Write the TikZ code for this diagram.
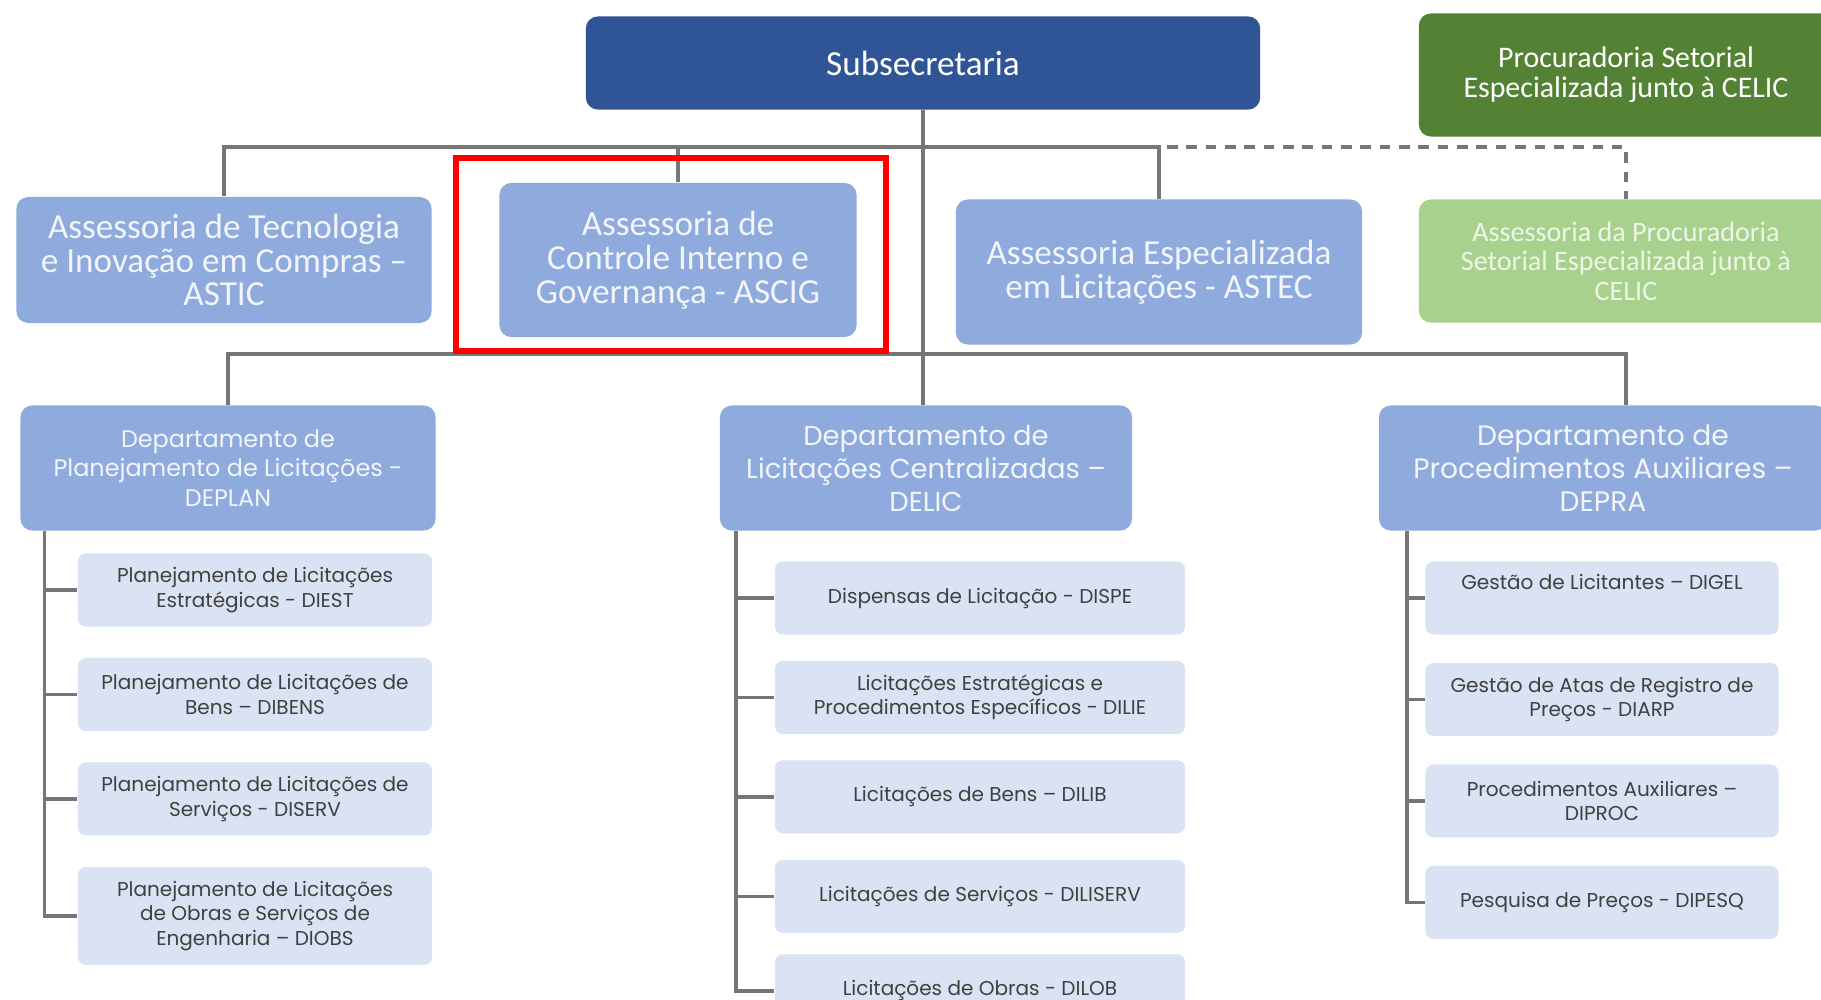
\documentclass[tikz,border=0pt]{standalone}
\usepackage{fontspec}
\newfontfamily\calfont{Carlito}
\newfontfamily\popfont{Poppins}
\usetikzlibrary{positioning}
\definecolor{subblue}{HTML}{2F5597}
\definecolor{assblue}{HTML}{8FAADC}
\definecolor{unitblue}{HTML}{DAE3F3}
\definecolor{darkgreen}{HTML}{548235}
\definecolor{lightgreen}{HTML}{A9D18E}
\definecolor{linegray}{HTML}{767676}
\definecolor{unittext}{HTML}{404040}
\definecolor{asstext}{HTML}{F2F5FC}
\definecolor{greentext}{HTML}{EEF6EA}
\tikzset{
  caixa/.style={rounded corners=0.12cm,align=center,inner sep=2pt},
  topo/.style={caixa,fill=subblue,text=white,font=\calfont\fontsize{10}{12}\selectfont},
  procuradoria/.style={caixa,fill=darkgreen,text=white,font=\calfont\fontsize{8.5}{8.5}\selectfont},
  apoio/.style={caixa,fill=lightgreen,text=greentext,font=\calfont\fontsize{8}{8.4}\selectfont},
  assessoria/.style={caixa,fill=assblue,text=asstext,font=\calfont\fontsize{10}{9.6}\selectfont},
  departamento/.style={caixa,fill=assblue,text=asstext,minimum height=1.25cm,font=\popfont\fontsize{7.8}{9.4}\selectfont},
  unidade/.style={caixa,rounded corners=0.08cm,fill=unitblue,text=unittext,minimum height=0.73cm,font=\popfont\fontsize{5.7}{6.9}\selectfont},
  ligacao/.style={draw=linegray,line width=1pt},
  tracejada/.style={ligacao,dash pattern=on 3pt off 2.5pt},
  destaque/.style={draw=red,line width=1.7pt}
}
\begin{document}
\begin{tikzpicture}[x=0.01cm,y=-0.01cm,node distance=0.3cm]
  \useasboundingbox[fill=white] (0,0) rectangle (1821,1000);
  \node[topo,minimum width=6.74cm,minimum height=0.93cm](sub) at (923,63) {Subsecretaria};
  \node[procuradoria,minimum width=4.14cm,minimum height=1.23cm](pse) at (1626,75) {Procuradoria Setorial\\Especializada junto à CELIC};
  \node[assessoria,minimum width=4.15cm,minimum height=1.26cm](astic) at (224,260) {Assessoria de Tecnologia\\e Inovação em Compras –\\ASTIC};
  \node[assessoria,minimum width=3.57cm,minimum height=1.54cm](ascig) at (678,260) {Assessoria de\\Controle Interno e\\Governança - ASCIG};
  \node[assessoria,minimum width=4.06cm,minimum height=1.45cm](astec) at (1159,272) {Assessoria Especializada\\em Licitações - ASTEC};
  \node[apoio,minimum width=4.14cm,minimum height=1.23cm](apse) at (1626,261) {Assessoria da Procuradoria\\Setorial Especializada junto à\\CELIC};
  \node[departamento,minimum width=4.15cm,font=\popfont\fontsize{6.8}{8.3}\selectfont](deplan) at (228,468) {Departamento de\\Planejamento de Licitações -\\DEPLAN};
  \node[departamento,minimum width=4.12cm](delic) at (926,468) {Departamento de\\Licitações Centralizadas –\\DELIC};
  \node[departamento,minimum width=4.48cm,font=\popfont\fontsize{8}{9.4}\selectfont](depra) at (1603,468) {Departamento de\\Procedimentos Auxiliares –\\DEPRA};
  \node[unidade,minimum width=3.54cm](diest) at (255,590) {Planejamento de Licitações\\Estratégicas - DIEST};
  \node[unidade,minimum width=3.54cm,below=of diest](dibens) {Planejamento de Licitações de\\Bens – DIBENS};
  \node[unidade,minimum width=3.54cm,below=of dibens](diserv) {Planejamento de Licitações de\\Serviços - DISERV};
  \node[unidade,minimum width=3.54cm,minimum height=0.98cm,below=of diserv](diobs) {Planejamento de Licitações\\de Obras e Serviços de\\Engenharia – DIOBS};
  \node[unidade,minimum width=4.1cm](dispe) at (980,598) {Dispensas de Licitação - DISPE};
  \node[unidade,minimum width=4.1cm,below=0.25cm of dispe](dilie) {Licitações Estratégicas e\\Procedimentos Específicos - DILIE};
  \node[unidade,minimum width=4.1cm,below=0.25cm of dilie](dilib) {Licitações de Bens – DILIB};
  \node[unidade,minimum width=4.1cm,below=0.25cm of dilib](diliserv) {Licitações de Serviços - DILISERV};
  \node[unidade,minimum width=4.1cm,below=0.2cm of diliserv](dilob) {Licitações de Obras - DILOB};
  \node[unidade,minimum width=3.53cm](digel) at (1602,598) {Gestão de Licitantes – DIGEL\\\strut};
  \node[unidade,minimum width=3.53cm,below=0.27cm of digel](diarp) {Gestão de Atas de Registro de\\Preços - DIARP};
  \node[unidade,minimum width=3.53cm,below=0.27cm of diarp](diproc) {Procedimentos Auxiliares –\\DIPROC};
  \node[unidade,minimum width=3.53cm,below=0.27cm of diproc](dipesq) {Pesquisa de Preços - DIPESQ};
  \coordinate (barra1) at (923,147);
  \coordinate (barra2) at (923,354);
  \draw[ligacao] (sub.south) -- (sub.south |- delic.north);
  \draw[ligacao] (astic.north) |- (barra1) -| (astec.north);
  \draw[ligacao] (ascig.north) -- (ascig.north |- barra1);
  \draw[tracejada] ([xshift=0.08cm]astec.north |- barra1) -| (apse.north);
  \draw[ligacao] (deplan.north) |- (barra2) -| (depra.north -| apse.north);
  \coordinate (busplan) at ([xshift=0.25cm]deplan.south west);
  \coordinate (buslic) at ([xshift=0.17cm]delic.south west);
  \coordinate (buspra) at ([xshift=0.29cm]depra.south west);
  \draw[ligacao] (busplan) |- (diobs.west);
  \draw[ligacao] (buslic) |- (dilob.west);
  \draw[ligacao] (buspra) |- (dipesq.west);
  \foreach \u in {diest,dibens,diserv} \draw[ligacao] (busplan |- \u.west) -- (\u.west);
  \foreach \u in {dispe,dilie,dilib,diliserv} \draw[ligacao] (buslic |- \u.west) -- (\u.west);
  \foreach \u in {digel,diarp,diproc} \draw[ligacao] (buspra |- \u.west) -- (\u.west);
  \draw[destaque] ([xshift=-0.43cm,yshift=0.24cm]ascig.north west) rectangle ([xshift=0.29cm,yshift=-0.13cm]ascig.south east);
\end{tikzpicture}
\end{document}
